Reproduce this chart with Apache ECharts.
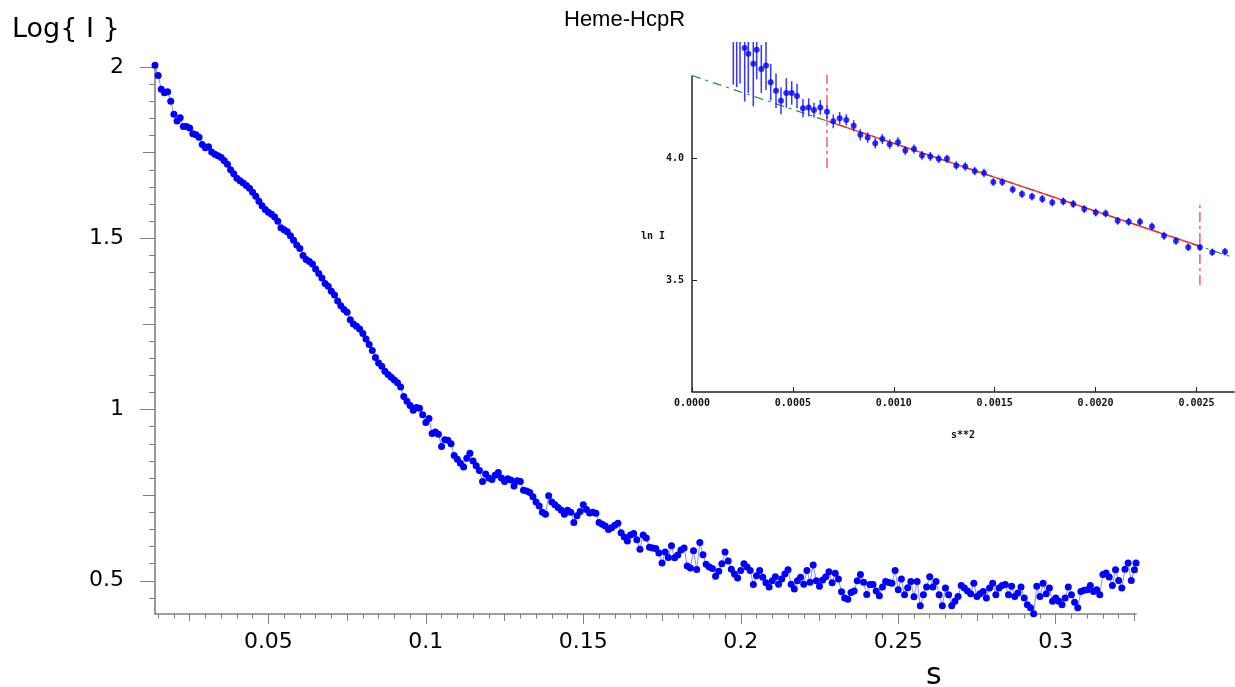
<!DOCTYPE html>
<html><head><meta charset="utf-8">
<script src="https://cdn.jsdelivr.net/npm/echarts@6/dist/echarts.min.js"></script>
<style>html,body{margin:0;padding:0;background:#fff}#c{width:1235px;height:687px}</style>
</head><body><div id="c"></div>
<script>
// ---------- main plot data: s vs Log{I} ----------
const sValues = [
0.014,0.015,0.016,0.017,0.018,0.019,0.020,0.021,0.022,0.023,
0.024,0.025,0.026,0.027,0.028,0.029,0.030,0.031,0.032,0.033,
0.034,0.035,0.036,0.037,0.038,0.039,0.040,0.041,0.042,0.043,
0.044,0.045,0.046,0.047,0.048,0.049,0.050,0.051,0.052,0.053,
0.054,0.055,0.056,0.057,0.058,0.059,0.060,0.061,0.062,0.063,
0.064,0.065,0.066,0.067,0.068,0.069,0.070,0.071,0.072,0.073,
0.074,0.075,0.076,0.077,0.078,0.079,0.080,0.081,0.082,0.083,
0.084,0.085,0.086,0.087,0.088,0.089,0.090,0.091,0.092,0.093,
0.094,0.095,0.096,0.097,0.098,0.099,0.100,0.101,0.102,0.103,
0.104,0.105,0.106,0.107,0.108,0.109,0.110,0.111,0.112,0.113,
0.114,0.115,0.116,0.117,0.118,0.119,0.120,0.121,0.122,0.123,
0.124,0.125,0.126,0.127,0.128,0.129,0.130,0.131,0.132,0.133,
0.134,0.135,0.136,0.137,0.138,0.139,0.140,0.141,0.142,0.143,
0.144,0.145,0.146,0.147,0.148,0.149,0.150,0.151,0.152,0.153,
0.154,0.155,0.156,0.157,0.158,0.159,0.160,0.161,0.162,0.163,
0.164,0.165,0.166,0.167,0.168,0.169,0.170,0.171,0.172,0.173,
0.174,0.175,0.176,0.177,0.178,0.179,0.180,0.181,0.182,0.183,
0.184,0.185,0.186,0.187,0.188,0.189,0.190,0.191,0.192,0.193,
0.194,0.195,0.196,0.197,0.198,0.199,0.200,0.201,0.202,0.203,
0.204,0.205,0.206,0.207,0.208,0.209,0.210,0.211,0.212,0.213,
0.214,0.215,0.216,0.217,0.218,0.219,0.220,0.221,0.222,0.223,
0.224,0.225,0.226,0.227,0.228,0.229,0.230,0.231,0.232,0.233,
0.234,0.235,0.236,0.237,0.238,0.239,0.240,0.241,0.242,0.243,
0.244,0.245,0.246,0.247,0.248,0.249,0.250,0.251,0.252,0.253,
0.254,0.255,0.256,0.257,0.258,0.259,0.260,0.261,0.262,0.263,
0.264,0.265,0.266,0.267,0.268,0.269,0.270,0.271,0.272,0.273,
0.274,0.275,0.276,0.277,0.278,0.279,0.280,0.281,0.282,0.283,
0.284,0.285,0.286,0.287,0.288,0.289,0.290,0.291,0.292,0.293,
0.294,0.295,0.296,0.297,0.298,0.299,0.300,0.301,0.302,0.303,
0.304,0.305,0.306,0.307,0.308,0.309,0.310,0.311,0.312,0.313,
0.314,0.315,0.316,0.317,0.318,0.319,0.320,0.321,0.322,0.323,
0.324,0.325,0.3255
];
const logI = [
2.005,1.975,1.935,1.925,1.928,1.900,1.862,1.842,1.852,1.826,
1.826,1.822,1.805,1.802,1.795,1.774,1.764,1.767,1.752,1.745,
1.741,1.736,1.726,1.716,1.700,1.688,1.675,1.668,1.661,1.654,
1.646,1.634,1.623,1.608,1.595,1.584,1.576,1.570,1.562,1.550,
1.531,1.525,1.519,1.507,1.494,1.480,1.470,1.450,1.438,1.432,
1.425,1.410,1.397,1.384,1.368,1.360,1.345,1.334,1.317,1.303,
1.292,1.284,1.262,1.250,1.243,1.235,1.222,1.206,1.190,1.172,
1.152,1.136,1.126,1.112,1.102,1.094,1.086,1.078,1.066,1.038,
1.024,1.012,0.998,1.006,1.004,0.985,0.962,0.974,0.930,0.934,
0.928,0.892,0.912,0.910,0.900,0.866,0.855,0.843,0.832,0.858,
0.872,0.850,0.836,0.822,0.790,0.812,0.800,0.796,0.808,0.816,
0.800,0.790,0.798,0.794,0.777,0.792,0.790,0.764,0.762,0.758,
0.745,0.730,0.718,0.700,0.694,0.748,0.730,0.722,0.714,0.706,
0.694,0.706,0.700,0.670,0.690,0.702,0.722,0.708,0.698,0.700,
0.697,0.670,0.665,0.660,0.650,0.655,0.662,0.668,0.640,0.628,
0.616,0.634,0.638,0.620,0.592,0.634,0.625,0.598,0.596,0.594,
0.581,0.552,0.584,0.568,0.602,0.567,0.575,0.590,0.596,0.543,
0.537,0.588,0.533,0.612,0.576,0.548,0.540,0.536,0.513,0.528,
0.550,0.584,0.558,0.534,0.520,0.508,0.530,0.550,0.540,0.530,
0.489,0.515,0.530,0.510,0.494,0.482,0.500,0.512,0.490,0.505,
0.520,0.532,0.490,0.476,0.500,0.510,0.490,0.530,0.496,0.546,
0.500,0.484,0.502,0.512,0.526,0.494,0.522,0.505,0.468,0.450,
0.446,0.466,0.470,0.500,0.518,0.496,0.460,0.489,0.489,0.470,
0.456,0.482,0.498,0.495,0.493,0.530,0.474,0.505,0.459,0.480,
0.498,0.453,0.498,0.427,0.459,0.482,0.512,0.482,0.498,0.459,
0.427,0.479,0.459,0.427,0.440,0.454,0.486,0.479,0.470,0.462,
0.493,0.454,0.462,0.469,0.450,0.479,0.493,0.459,0.479,0.486,
0.489,0.459,0.484,0.454,0.464,0.482,0.450,0.430,0.421,0.404,
0.484,0.454,0.493,0.462,0.479,0.440,0.450,0.440,0.430,0.450,
0.482,0.459,0.437,0.421,0.469,0.472,0.474,0.486,0.469,0.474,
0.459,0.518,0.523,0.511,0.486,0.532,0.501,0.479,0.534,0.552,
0.501,0.532,0.552
];
const xMajorTicks = [0.05,0.1,0.15,0.2,0.25,0.3];
const xMediumTicks = [0.025,0.075,0.125,0.175,0.225,0.275,0.325];
const yMajorTicks = [0.5,1,1.5,2];
const yMediumTicks = [0.75,1.25,1.75];

// ---------- inset (Guinier plot): s**2 vs ln I ----------
const insetS2 = [
0.0002047,0.0002215,0.0002379,0.0002611,0.0002790,0.0003038,0.0003206,0.0003434,0.0003667,0.0003900,
0.0004163,0.0004410,0.0004673,0.0004941,0.0005203,0.0005500,0.0005783,0.0006046,0.0006358,0.0006690,
0.0007002,0.0007319,0.0007646,0.0008013,0.0008340,0.0008707,0.0009083,0.0009430,0.0009797,0.0010208,
0.0010570,0.0011001,0.0011397,0.0011809,0.0012225,0.0012636,0.0013097,0.0013543,0.0014009,0.0014470,
0.0014931,0.0015377,0.0015892,0.0016353,0.0016848,0.0017359,0.0017854,0.0018400,0.0018895,0.0019440,
0.0020005,0.0020500,0.0021095,0.0021640,0.0022200,0.0022795,0.0023390,0.0023984,0.0024594,0.0025173,
0.0025783,0.0026412
];
const insetLnI = [
4.520,4.500,4.490,4.449,4.426,4.385,4.442,4.364,4.378,4.310,
4.275,4.234,4.266,4.266,4.254,4.204,4.207,4.196,4.207,4.189,
4.150,4.163,4.156,4.132,4.095,4.084,4.061,4.078,4.057,4.065,
4.031,4.037,4.011,4.007,3.997,3.997,3.970,3.966,3.947,3.939,
3.902,3.902,3.872,3.853,3.843,3.833,3.819,3.823,3.813,3.792,
3.778,3.774,3.744,3.740,3.740,3.721,3.683,3.662,3.636,3.636,
3.616,3.618
];
const insetErr = [
0.220,0.210,0.185,0.218,0.160,0.174,0.120,0.098,0.100,0.075,
0.070,0.055,0.060,0.048,0.050,0.037,0.037,0.030,0.030,0.028,
0.028,0.025,0.023,0.023,0.023,0.021,0.021,0.020,0.020,0.020,
0.018,0.018,0.018,0.018,0.017,0.017,0.017,0.017,0.017,0.017,
0.016,0.016,0.016,0.016,0.016,0.016,0.016,0.016,0.016,0.016,
0.016,0.016,0.016,0.016,0.016,0.016,0.016,0.016,0.015,0.015,
0.015,0.015
];
const guinierExtrapolation = [[0, 4.337], [0.002686, 3.593]];
const guinierFitRange = [[0.000669, 4.152], [0.002517, 3.640]];
const fitLimitLow = [[0.000669, 3.960], [0.000669, 4.340]];
const fitLimitHigh = [[0.002517, 3.482], [0.002517, 3.823]];
const insetYTicks = [3.5, 4.0];
const insetYAxisSpan = [[0, 3.045], [0, 4.337]];

// ---------- build ----------
const mainData = sValues.map((s, i) => [s, logI[i]]);
const insetData = insetS2.map((s, i) => [s, insetLnI[i], insetErr[i]]);
const xMinorTicks = []; for (let k = 3; k <= 65; k++) xMinorTicks.push(Math.round(k * 5) / 1000);
const yMinorTicks = []; for (let k = 9; k <= 39; k++) yMinorTicks.push(Math.round(k * 5) / 100);

const X_MIN = 0.014, X_MAX = 0.3255, Y_MIN = 0.403, Y_MAX = 2.0;
const GREY = '#808080';
const numFont = 'DejaVu Sans';
const mono = 'DejaVu Sans Mono';

function mainX(extra) {
  return Object.assign({
    type: 'value', gridIndex: 0, min: X_MIN, max: X_MAX, position: 'bottom',
    splitLine: { show: false }, axisLine: { show: false },
    axisLabel: { show: false }
  }, extra);
}
function mainY(extra) {
  return Object.assign({
    type: 'value', gridIndex: 0, min: Y_MIN, max: Y_MAX, position: 'left',
    splitLine: { show: false }, axisLine: { show: false },
    axisLabel: { show: false }
  }, extra);
}

const chart = echarts.init(document.getElementById('c'), null, { renderer: 'canvas' });
chart.setOption({
  animation: false,
  backgroundColor: '#ffffff',
  title: [
    { text: 'Heme-HcpR', left: 564, top: 9, padding: 0,
      textStyle: { fontFamily: 'Liberation Sans', fontSize: 22, fontWeight: 'normal', color: '#000' } },
    { text: 'Log{ I }', left: 12, top: 16, padding: 0,
      textStyle: { fontFamily: numFont, fontSize: 27, fontWeight: 'normal', color: '#000' } },
    { text: 's', left: 926, top: 661, padding: 0,
      textStyle: { fontFamily: numFont, fontSize: 30, fontWeight: 'normal', color: '#000' } },
    { text: 'ln I', left: 641, top: 231, padding: 0,
      textStyle: { fontFamily: mono, fontSize: 10, fontWeight: 'bold', color: '#111' } }
  ],
  grid: [
    { left: 155, top: 67, width: 981, height: 547, containLabel: false },
    { left: 692, top: 42, width: 542, height: 350, containLabel: false }
  ],
  xAxis: [
    mainX({
      axisLine: { show: true, lineStyle: { color: GREY, width: 1.6 } },
      axisTick: { show: true, customValues: xMajorTicks, length: 10, lineStyle: { color: GREY, width: 1 } },
      axisLabel: { show: true, customValues: xMajorTicks, margin: 17, color: '#000',
        fontFamily: numFont, fontSize: 22, formatter: v => String(+v.toFixed(3)) }
    }),
    mainX({ axisTick: { show: true, customValues: xMediumTicks, length: 7, lineStyle: { color: GREY, width: 1 } } }),
    mainX({ axisTick: { show: true, customValues: xMinorTicks, length: 4.5, lineStyle: { color: GREY, width: 1 } } }),
    {
      type: 'value', gridIndex: 1, min: 0, max: 0.002686, interval: 0.0005,
      splitLine: { show: false },
      axisLine: { show: true, lineStyle: { color: '#222', width: 1.5 } },
      axisTick: { show: true, inside: true, length: 5, lineStyle: { color: '#222', width: 1 } },
      axisLabel: { show: true, margin: 6, color: '#111', fontFamily: mono, fontWeight: 'bold', fontSize: 10,
        showMaxLabel: false, formatter: v => v.toFixed(4) },
      name: 's**2', nameLocation: 'middle', nameGap: 38,
      nameTextStyle: { fontFamily: mono, fontWeight: 'bold', fontSize: 10, color: '#111' }
    }
  ],
  yAxis: [
    mainY({
      axisLine: { show: true, lineStyle: { color: GREY, width: 1.6 } },
      axisTick: { show: true, customValues: yMajorTicks, length: 15, lineStyle: { color: GREY, width: 1 } },
      axisLabel: { show: true, customValues: yMajorTicks, margin: 31, color: '#000',
        fontFamily: numFont, fontSize: 22, formatter: v => String(+v.toFixed(2)) }
    }),
    mainY({ axisTick: { show: true, customValues: yMediumTicks, length: 12, lineStyle: { color: GREY, width: 1 } } }),
    mainY({ axisTick: { show: true, customValues: yMinorTicks, length: 6, lineStyle: { color: GREY, width: 1 } } }),
    {
      type: 'value', gridIndex: 1, min: 3.045, max: 4.474,
      splitLine: { show: false }, axisLine: { show: false },
      axisTick: { show: true, inside: true, customValues: insetYTicks, length: 5, lineStyle: { color: '#222', width: 1 } },
      axisLabel: { show: true, customValues: insetYTicks, margin: 8, color: '#111', fontFamily: mono,
        fontWeight: 'bold', fontSize: 10, formatter: v => v.toFixed(1) }
    }
  ],
  series: [
    {
      type: 'line', xAxisIndex: 0, yAxisIndex: 0, data: mainData, clip: false,
      symbol: 'circle', symbolSize: 7, showSymbol: true, showAllSymbol: true,
      itemStyle: { color: '#0000ff' },
      lineStyle: { color: '#8a8aff', width: 1 }, z: 3
    },
    {
      type: 'line', xAxisIndex: 3, yAxisIndex: 3, data: insetYAxisSpan, symbol: 'none',
      lineStyle: { color: '#222', width: 1.5 }, z: 1
    },
    {
      type: 'line', xAxisIndex: 3, yAxisIndex: 3, data: guinierExtrapolation, symbol: 'none',
      lineStyle: { color: '#2e8b2e', width: 1.2, type: [9, 5, 3, 5] }, z: 2
    },
    {
      type: 'line', xAxisIndex: 3, yAxisIndex: 3, data: guinierFitRange, symbol: 'none',
      lineStyle: { color: '#ff2020', width: 1.4, opacity: 0.9 }, z: 3
    },
    {
      type: 'line', xAxisIndex: 3, yAxisIndex: 3, data: fitLimitLow, symbol: 'none',
      lineStyle: { color: '#ff5a5a', width: 1.5, type: [10, 4, 3, 4] }, z: 3
    },
    {
      type: 'line', xAxisIndex: 3, yAxisIndex: 3, data: fitLimitHigh, symbol: 'none',
      lineStyle: { color: '#ff5a5a', width: 1.5, type: [10, 4, 3, 4] }, z: 3
    },
    {
      type: 'custom', xAxisIndex: 3, yAxisIndex: 3, data: insetData, clip: true, z: 4,
      renderItem: function (params, api) {
        const x = api.value(0), y = api.value(1), e = api.value(2);
        const p1 = api.coord([x, y - e]), p2 = api.coord([x, y + e]);
        return { type: 'line', shape: { x1: p1[0], y1: p1[1], x2: p2[0], y2: p2[1] },
          style: { stroke: '#1010ff', lineWidth: 1.5, opacity: 0.85 } };
      }
    },
    {
      type: 'scatter', xAxisIndex: 3, yAxisIndex: 3, data: insetData, clip: true,
      symbol: 'circle', symbolSize: 6, itemStyle: { color: '#0000ff' }, z: 5
    }
  ]
});
</script>
</body></html>
